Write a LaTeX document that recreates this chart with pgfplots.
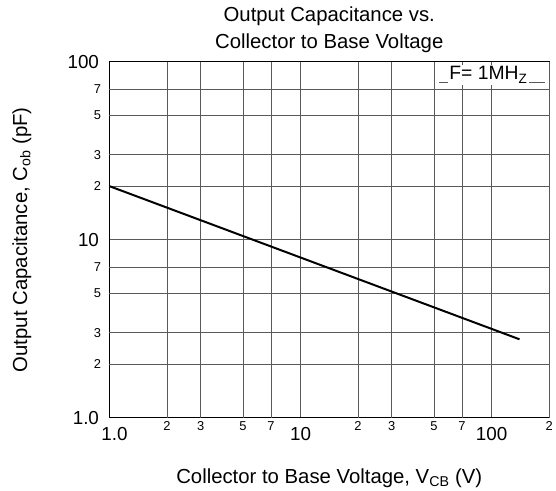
\documentclass[border=0pt]{standalone}
\usepackage{fontspec}
\setmainfont{Liberation Sans}
\usepackage{pgfplots}
\pgfplotsset{compat=1.18}
\begin{document}
\begin{tikzpicture}
\begin{axis}[
  scale only axis, width=442bp, height=358bp,
  at={(0,0)}, anchor=south west,
  xmode=log, ymode=log,
  xmin=1, xmax=200, ymin=1, ymax=100,
  xminorticks=false, yminorticks=false,
  major tick length=0pt,
  xmajorgrids, ymajorgrids,
  major grid style={black!65, line width=0.8bp},
  axis line style={line width=1.2bp},
  xtick={1,10,100}, xticklabels={\hspace{10bp}1.0,10,100},
  ytick={1,10,100}, yticklabels={1.0\hspace{2bp},10,100\hspace{8bp}},
  xticklabel style={anchor=base, yshift=-23bp, font=\fontsize{19}{19}\selectfont},
  yticklabel style={anchor=east, xshift=-7bp, font=\fontsize{19}{19}\selectfont},
  extra x ticks={2,3,5,7,20,30,50,70,200},
  extra x tick labels={2,3,5,7,2,3,5,7,2},
  extra x tick style={grid=major, xticklabel style={yshift=10bp, font=\fontsize{13}{13}\selectfont}},
  extra y ticks={2,3,5,7,20,30,50,70},
  extra y tick labels={2,3,5,7,2,3,5,7},
  extra y tick style={grid=major, yticklabel style={xshift=2bp, font=\fontsize{13}{13}\selectfont}},
  xlabel={Collector to Base Voltage, V\textsubscript{CB} (V)},
  ylabel={Output Capacitance, C\textsubscript{ob} (pF)},
  xlabel style={at={(rel axis cs:0.5,0)}, anchor=base, yshift=-66bp, font=\fontsize{20.5}{20.5}\selectfont},
  ylabel style={at={(rel axis cs:0,0.5)}, anchor=center, yshift=88bp, font=\fontsize{20.5}{20.5}\selectfont},
  title={Output Capacitance vs.\\Collector to Base Voltage},
  title style={at={(rel axis cs:0.5,1)}, anchor=south, inner sep=0pt, yshift=2.7bp, align=center, font=\fontsize{20.5}{27}\selectfont},
  clip=false,
]
\addplot[black, line width=2bp] coordinates {(1,20) (140,2.76)};
\draw[black!65, line width=0.8bp] (rel axis cs:0.75,0.941) -- (rel axis cs:0.991,0.941);
\node[fill=white, inner sep=1.5bp, font=\fontsize{19.5}{19.5}\selectfont] at (rel axis cs:0.862,0.963) {F= 1MH\textsubscript{Z}};
\end{axis}
\path[use as bounding box] (-110bp,-71bp) rectangle (446bp,420bp);
\end{tikzpicture}
\end{document}
